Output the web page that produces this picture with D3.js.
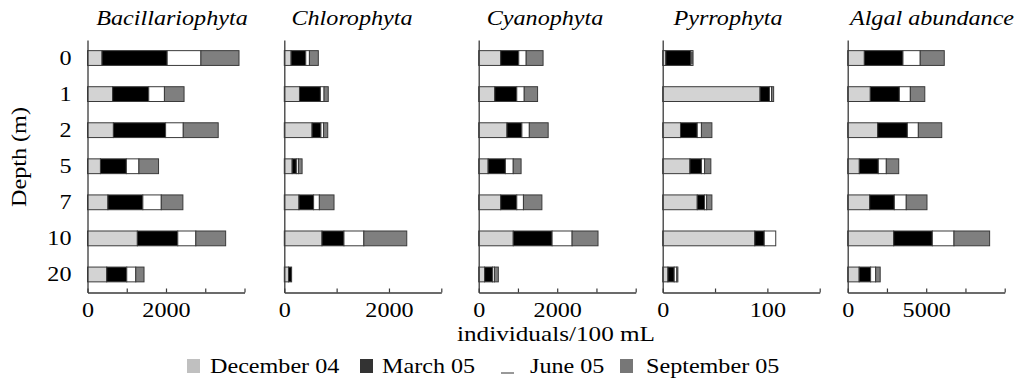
<!DOCTYPE html>
<html>
<head>
<meta charset="utf-8">
<script src="https://cdn.jsdelivr.net/npm/d3@7"></script>
<style>
  html, body { margin: 0; padding: 0; background: #fff; }
  svg { display: block; }
  text { font-family: "Liberation Serif", "Times New Roman", serif; fill: #000; }
</style>
</head>
<body>
<svg id="chart" width="1023" height="381"></svg>
<script>
// Depth categories and sampling seasons
const depths = ["0", "1", "2", "5", "7", "10", "20"];
const seasons = ["December 04", "March 05", "June 05", "September 05"];

// Abundance (individuals/100 mL), one row per season, one value per depth
const bacillariophyta = [
  [370, 640, 660, 330, 520, 1270, 490],
  [1660, 920, 1330, 660, 890, 1030, 510],
  [860, 400, 450, 320, 470, 460, 230],
  [970, 500, 890, 500, 550, 760, 210]
];
const chlorophyta = [
  [130, 290, 530, 150, 280, 720, 80],
  [280, 400, 170, 80, 280, 420, 60],
  [70, 70, 50, 40, 110, 380, 0],
  [170, 80, 80, 70, 280, 820, 0]
];
const cyanophyta = [
  [560, 410, 720, 240, 560, 880, 150],
  [460, 560, 380, 440, 410, 990, 200],
  [190, 190, 190, 200, 170, 510, 50],
  [430, 340, 480, 200, 470, 660, 100]
];
const pyrrophyta = [
  [3, 93, 17, 26, 33, 88, 5],
  [24, 9, 16, 11, 7, 9, 6],
  [1, 2, 4, 3, 2, 11, 2.5],
  [1, 2, 10, 6, 5, 0, 1]
];
const algalAbundance = [
  [1060, 1440, 1910, 740, 1400, 2930, 730],
  [2460, 1850, 1890, 1210, 1570, 2460, 730],
  [1100, 700, 700, 510, 760, 1380, 320],
  [1530, 920, 1490, 790, 1320, 2270, 290]
];

// Panel titles, axis maxima, tick steps and labelled ticks
const panelTitles = ["Bacillariophyta", "Chlorophyta", "Cyanophyta", "Pyrrophyta", "Algal abundance"];
const panelData = [bacillariophyta, chlorophyta, cyanophyta, pyrrophyta, algalAbundance];
const axisMax = [4000, 3000, 4000, 150, 10000];
const tickStep = [1000, 1000, 1000, 50, 2500];
const tickLabels = [[0, 2000], [0, 2000], [0, 2000], [0, 100], [0, 5000]];

// Layout
const panelLeft = [87.5, 284.3, 478.7, 662.7, 847.7];
const panelWidth = 157;
const plotTop = 40, plotBottom = 292.5;
const titleCenter = [172, 352, 545, 728, 932];
const fills = ["#d3d3d3", "#000000", "#ffffff", "#7f7f7f"];
const legendFills = ["#c0c0c0", "#333333", "#ffffff", "#777777"];
const strokeCol = "#3a3a3a";
const fontSize = 21;
const stretch = 1.15;   // wide lettering

const svg = d3.select("#chart");

// place a horizontally stretched text label at (x, y)
function label(x, y, str, opts = {}) {
  return svg.append("text")
    .attr("transform", `translate(${x},${y}) scale(${opts.stretch || stretch},1)`)
    .attr("text-anchor", opts.anchor || "middle")
    .attr("font-size", opts.size || fontSize)
    .attr("font-style", opts.italic ? "italic" : null)
    .text(str);
}

const y = d3.scaleBand()
  .domain(depths)
  .range([plotTop, plotBottom])
  .paddingInner(0.59)
  .paddingOuter(0.295);

panelData.forEach((rows, p) => {
  const x = d3.scaleLinear()
    .domain([0, axisMax[p]])
    .range([panelLeft[p], panelLeft[p] + panelWidth]);

  // stacked segments
  const stacked = depths.map((d, i) => {
    let acc = 0;
    return rows.map((r, s) => {
      const seg = { depth: d, season: s, x0: acc, x1: acc + r[i] };
      acc += r[i];
      return seg;
    });
  }).flat();

  const g = svg.append("g");
  g.selectAll("rect")
    .data(stacked.filter(s => s.x1 > s.x0))
    .join("rect")
    .attr("x", s => x(s.x0))
    .attr("width", s => x(s.x1) - x(s.x0))
    .attr("y", s => y(s.depth))
    .attr("height", y.bandwidth())
    .attr("fill", s => fills[s.season])
    .attr("stroke", strokeCol)
    .attr("stroke-width", 1);

  // x axis with upward ticks
  const ticks = d3.range(0, axisMax[p] + 1e-9, tickStep[p]);
  const xAxis = d3.axisBottom(x)
    .tickValues(ticks)
    .tickSizeInner(-4)
    .tickSizeOuter(0)
    .tickPadding(10)
    .tickFormat(v => tickLabels[p].includes(v) ? String(v) : "");
  const gx = svg.append("g")
    .attr("transform", `translate(0,${plotBottom})`)
    .call(xAxis);
  gx.selectAll("path.domain").attr("stroke", strokeCol).attr("stroke-width", 1.3);
  gx.selectAll(".tick line").attr("stroke", strokeCol).attr("stroke-width", 1.2);
  gx.selectAll("text")
    .attr("font-size", fontSize)
    .attr("font-family", "Liberation Serif")
    .attr("transform", `scale(${stretch},1)`);

  // y axis
  const yAxis = d3.axisLeft(y)
    .tickSize(0)
    .tickPadding(16)
    .tickFormat(p === 0 ? (d => d) : () => "");
  const gy = svg.append("g")
    .attr("transform", `translate(${panelLeft[p]},0)`)
    .call(yAxis);
  gy.select("path.domain").attr("stroke", strokeCol).attr("stroke-width", 1.3);
  gy.selectAll("text")
    .attr("font-size", fontSize)
    .attr("font-family", "Liberation Serif")
    .attr("x", 0)
    .attr("transform", `translate(-16,0) scale(${stretch},1)`);

  // panel title
  label(titleCenter[p], 25, panelTitles[p], { italic: true });
});

// axis titles
svg.append("text")
  .attr("transform", `translate(26,157) rotate(-90) scale(${stretch},1)`)
  .attr("text-anchor", "middle")
  .attr("font-size", fontSize)
  .text("Depth (m)");

label(556, 341, "individuals/100 mL", { stretch: 1.2 });

// legend
const legendBoxX = [187, 360, 501, 620];
const legendTextX = [210, 382, 530, 646];
const leg = svg.append("g");
seasons.forEach((s, i) => {
  leg.append("rect")
    .attr("x", legendBoxX[i])
    .attr("y", 359)
    .attr("width", 13)
    .attr("height", 14)
    .attr("fill", legendFills[i]);
  if (i === 2) {
    leg.append("line")
      .attr("x1", legendBoxX[i]).attr("x2", legendBoxX[i] + 13)
      .attr("y1", 373).attr("y2", 373)
      .attr("stroke", "#333").attr("stroke-width", 1);
  }
  label(legendTextX[i], 373, s, { anchor: "start" });
});
</script>
</body>
</html>
